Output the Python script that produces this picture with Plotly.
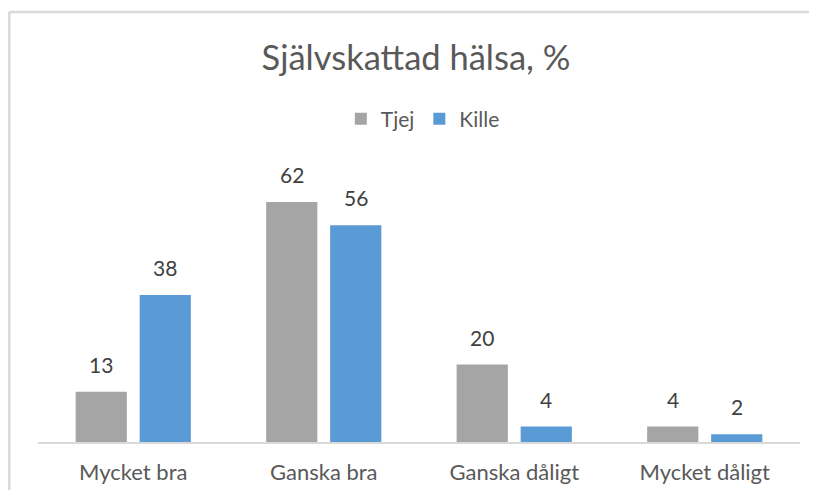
import plotly.graph_objects as go

categories = ["Mycket bra", "Ganska bra", "Ganska dåligt", "Mycket dåligt"]
tjej = [13, 62, 20, 4]
kille = [38, 56, 4, 2]
series_names = ["Tjej", "Kille"]
colors = ["#a5a5a5", "#5b9bd5"]

FONT = "Lato, Carlito, Calibri, sans-serif"

W, H = 801, 482
L, R, T, B = 30, 9, 163, 48
plot_w = W - L - R
plot_h = H - T - B

fig = go.Figure()
for name, vals, col in zip(series_names, [tjej, kille], colors):
    fig.add_trace(go.Bar(x=categories, y=vals, name=name, marker=dict(color=col, line=dict(width=0))))

# data labels
annotations = []
for vals, shift in [(tjej, -32), (kille, 32)]:
    for c, v in zip(categories, vals):
        annotations.append(dict(x=c, y=v, text=str(v), xref="x", yref="y", showarrow=False,
                                xshift=shift, yanchor="bottom", yshift=13,
                                font=dict(family=FONT, size=21, color="#404040")))

bx = (1.3 - L) / plot_w
by = (H - B - 4) / plot_h
fig.update_layout(
    width=W, height=H,
    margin=dict(l=L, r=R, t=T, b=B, autoexpand=False),
    paper_bgcolor="white", plot_bgcolor="white",
    barmode="group", bargap=0.328, bargroupgap=0.2,
    title=dict(text="Självskattad hälsa, %", x=408 / W, xanchor="center", y=1 - 50 / H, yanchor="middle",
               font=dict(family=FONT, size=34.5, color="#595959")),
    legend=dict(orientation="h", x=0.505, xanchor="center", y=(H - B - 111) / plot_h, yanchor="middle",
                font=dict(family=FONT, size=21, color="#595959"), itemwidth=30, traceorder="normal"),
    annotations=annotations,
    showlegend=True,
    shapes=[
        dict(type="line", xref="paper", yref="paper", x0=bx, x1=1.2, y0=by, y1=by,
             line=dict(color="#d9d9d9", width=2.5), layer="below"),
        dict(type="line", xref="paper", yref="paper", x0=bx, x1=bx, y0=-0.5, y1=by,
             line=dict(color="#d9d9d9", width=2.5), layer="below"),
    ],
)
fig.update_xaxes(showline=True, linecolor="#d9d9d9", linewidth=2, ticks="", ticklabelstandoff=10,
                 automargin=False,
                 tickfont=dict(family=FONT, size=22, color="#595959"), showgrid=False)
fig.update_yaxes(range=[0, 70], visible=False, showgrid=False, zeroline=False, automargin=False)

fig.write_html("out.html")
